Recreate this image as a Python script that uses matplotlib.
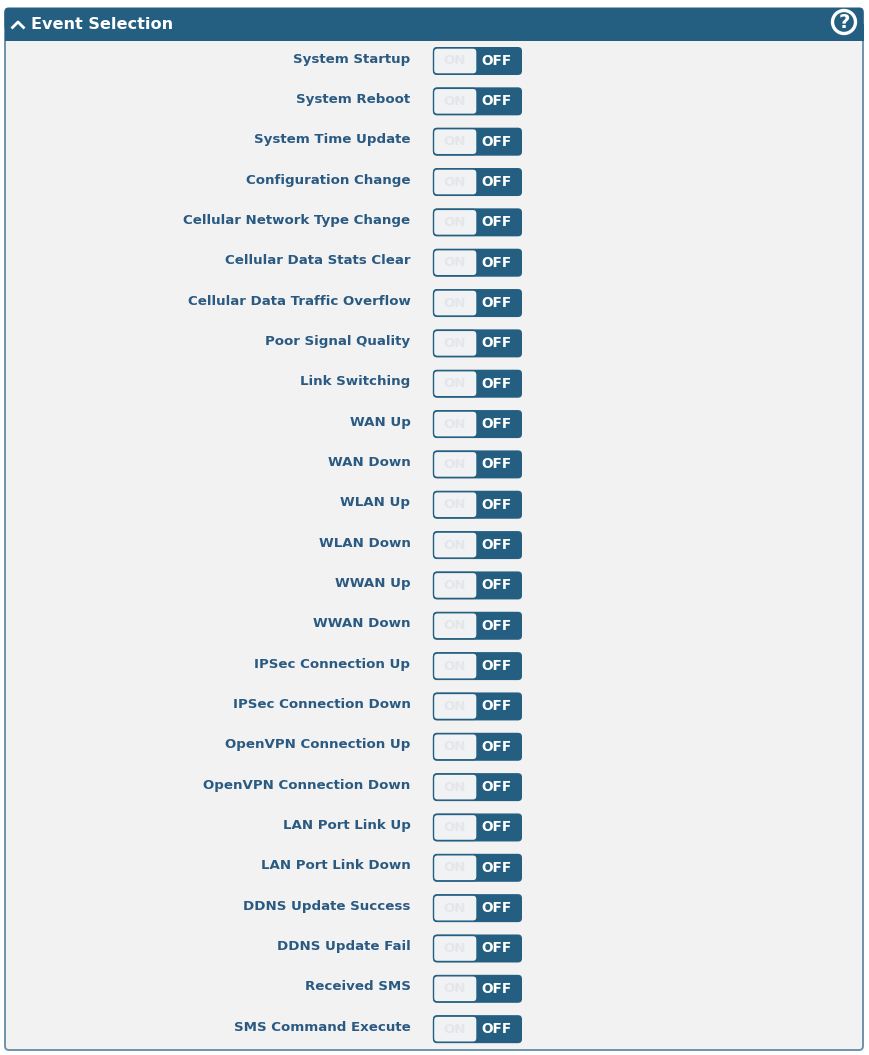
import matplotlib
matplotlib.use('Agg')
import matplotlib.pyplot as plt
from matplotlib.patches import FancyBboxPatch, Circle, Rectangle

title = 'Event Selection'
events = ['System Startup', 'System Reboot', 'System Time Update', 'Configuration Change',
          'Cellular Network Type Change', 'Cellular Data Stats Clear', 'Cellular Data Traffic Overflow',
          'Poor Signal Quality', 'Link Switching', 'WAN Up', 'WAN Down', 'WLAN Up', 'WLAN Down',
          'WWAN Up', 'WWAN Down', 'IPSec Connection Up', 'IPSec Connection Down',
          'OpenVPN Connection Up', 'OpenVPN Connection Down', 'LAN Port Link Up', 'LAN Port Link Down',
          'DDNS Update Success', 'DDNS Update Fail', 'Received SMS', 'SMS Command Execute']
states = ['OFF'] * len(events)

dark = '#245F82'
label_col = '#2A5A82'

plt.rcParams['font.family'] = 'DejaVu Sans'
fig = plt.figure(figsize=(8.69, 10.55), dpi=100)
ax = fig.add_axes([0, 0, 1, 1])
ax.set_xlim(0, 869)
ax.set_ylim(1055, 0)
ax.axis('off')


def rbox(x0, y0, x1, y1, r, **kw):
    p = FancyBboxPatch((x0 + r, y0 + r), x1 - x0 - 2 * r, y1 - y0 - 2 * r,
                       boxstyle='round,pad=%g,rounding_size=%g' % (r, r), **kw)
    ax.add_patch(p)


# panel and header
rbox(5, 9, 863, 1050, 4, fc='#F2F2F2', ec='#6F93AB', lw=1.4, zorder=1)
rbox(4.5, 7.5, 863.5, 30, 4, fc=dark, ec='none', zorder=2)
ax.add_patch(Rectangle((4.5, 24), 859, 17, fc=dark, ec='none', zorder=2))

ax.plot([12.5, 18, 23.5], [27.5, 22, 27.5], color='white', lw=2.0, zorder=3)
ax.text(31, 24.5, title, color='white', fontsize=11.6, fontweight='bold', ha='left', va='center', zorder=3)
ax.add_patch(Circle((844, 22), 11.5, fc='none', ec='white', lw=2.4, zorder=3))
ax.text(844, 22.5, '?', color='white', fontsize=14, fontweight='bold', ha='center', va='center', zorder=3)

# one row per event
for i, (name, state) in enumerate(zip(events, states)):
    y = 61 + i * 40.34
    ax.text(410.5, y - 2, name, color=label_col, fontsize=9.6, fontweight='bold', ha='right', va='center', zorder=3)
    rbox(433, y - 14, 522, y + 14, 4, fc=dark, ec='none', zorder=2)
    rbox(433.5, y - 13, 477, y + 13, 4, fc='#F1F2F4', ec=dark, lw=1.0, zorder=3)
    ax.text(455, y, 'ON', color='#E4E6E9', fontsize=9.5, fontweight='bold', ha='center', va='center', zorder=4)
    ax.text(497, y, state, color='white', fontsize=9.8, fontweight='bold', ha='center', va='center', zorder=4)

fig.savefig('out.png', dpi=100, facecolor='white')
